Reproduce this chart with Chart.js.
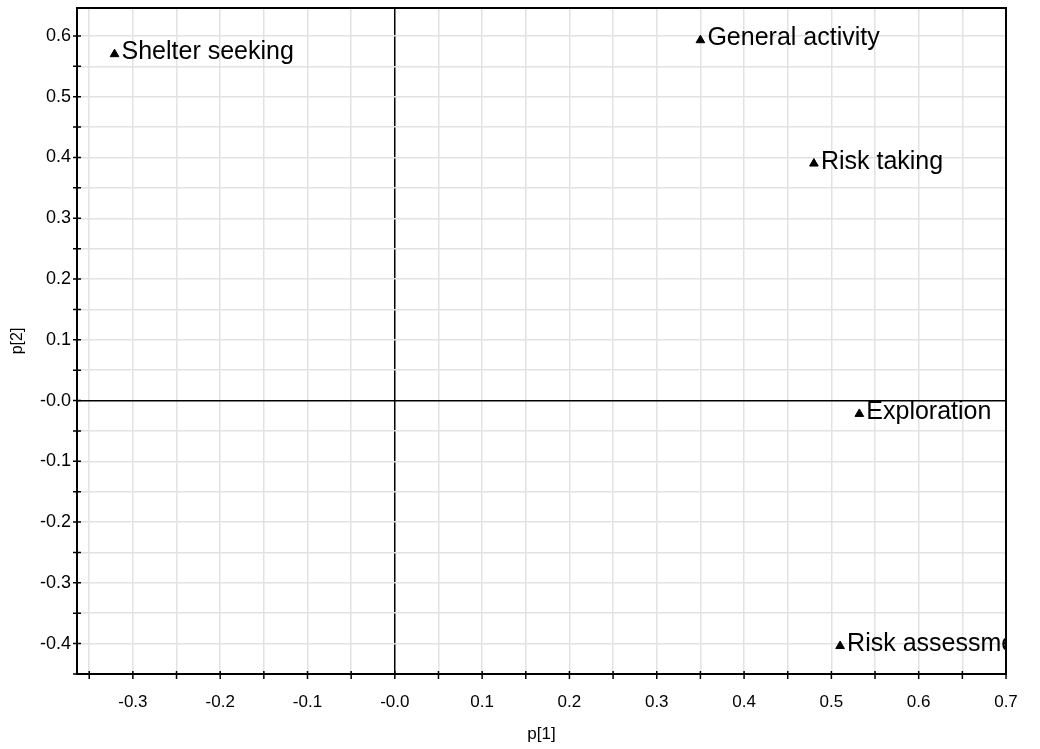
<!DOCTYPE html>
<html>
<head>
<meta charset="utf-8">
<script src="https://cdn.jsdelivr.net/npm/chart.js@4.4.1/dist/chart.umd.min.js"></script>
<style>
  html, body { margin: 0; padding: 0; background: #fff; }
  #wrap { width: 1040px; height: 749px; }
</style>
</head>
<body>
<div id="wrap"><canvas id="chart"></canvas></div>
<script>
// loadings
const names = ['Shelter seeking', 'General activity', 'Risk taking', 'Exploration', 'Risk assessment'];
const p1 = [-0.321, 0.35, 0.48, 0.532, 0.51];
const p2 = [0.570, 0.593, 0.390, -0.022, -0.404];

// axis ticks (labels only on the 0.1 steps)
const xTicks = [-0.35, -0.3, -0.25, -0.2, -0.15, -0.1, -0.05, 0, 0.05, 0.1, 0.15, 0.2,
  0.25, 0.3, 0.35, 0.4, 0.45, 0.5, 0.55, 0.6, 0.65, 0.7];
const yTicks = [-0.45, -0.4, -0.35, -0.3, -0.25, -0.2, -0.15, -0.1, -0.05, 0, 0.05, 0.1,
  0.15, 0.2, 0.25, 0.3, 0.35, 0.4, 0.45, 0.5, 0.55, 0.6];

const X_MIN = -0.364;
const X_MAX = 0.7;
const Y_MIN = -0.45;
const Y_MAX = 0.646;

const FONT = "'Liberation Sans', Arial, sans-serif";

function isMajor(v) {
  return Math.abs(v * 10 - Math.round(v * 10)) < 1e-6;
}

function tickText(v) {
  if (!isMajor(v)) return '';
  if (Math.abs(v) < 1e-9) return '-0.0';
  return v.toFixed(1);
}

function gridColor(ctx) {
  if (!ctx.tick) return '#e2e2e2';
  return Math.abs(ctx.tick.value) < 1e-9 ? '#000' : '#e2e2e2';
}

// black frame, crossing tick marks, point labels
const framePlugin = {
  id: 'frame',
  afterDatasetsDraw(chart) {
    const { ctx, chartArea: a, scales } = chart;

    ctx.save();
    ctx.beginPath();
    ctx.rect(a.left, a.top, a.right - a.left, a.bottom - a.top);
    ctx.clip();
    ctx.fillStyle = '#000';
    ctx.font = '25px ' + FONT;
    ctx.textBaseline = 'alphabetic';
    ctx.textAlign = 'left';
    const meta = chart.getDatasetMeta(0);
    meta.data.forEach((pt, i) => {
      ctx.fillText(names[i], pt.x + 7, pt.y + 5);
    });
    ctx.restore();

    ctx.save();
    ctx.strokeStyle = '#000';
    ctx.lineWidth = 2;
    ctx.strokeRect(a.left, a.top, a.right - a.left, a.bottom - a.top);

    ctx.lineWidth = 1.5;
    ctx.beginPath();
    xTicks.forEach((v) => {
      const px = scales.x.getPixelForValue(v);
      ctx.moveTo(px, a.bottom - 3);
      ctx.lineTo(px, a.bottom + 5);
    });
    yTicks.forEach((v) => {
      const py = scales.y.getPixelForValue(v);
      ctx.moveTo(a.left - 4, py);
      ctx.lineTo(a.left + 4, py);
    });
    ctx.stroke();
    ctx.restore();
  },
};

new Chart(document.getElementById('chart'), {
  type: 'scatter',
  data: {
    datasets: [
      {
        label: 'loadings',
        data: p1.map((x, i) => ({ x, y: p2[i] })),
        pointStyle: 'triangle',
        pointRadius: 5,
        pointHoverRadius: 5,
        backgroundColor: '#000',
        borderColor: '#000',
        borderWidth: 1,
      },
    ],
  },
  options: {
    responsive: true,
    maintainAspectRatio: false,
    animation: false,
    layout: { padding: { top: 8, right: 34, left: 0, bottom: 0 } },
    plugins: {
      legend: { display: false },
      tooltip: { enabled: false },
    },
    scales: {
      x: {
        type: 'linear',
        min: X_MIN,
        max: X_MAX,
        afterBuildTicks: (scale) => {
          scale.ticks = xTicks.map((v) => ({ value: v }));
        },
        afterFit: (scale) => {
          scale.height = 75;
          scale.paddingLeft = 0;
          scale.paddingRight = 0;
        },
        border: { display: false },
        grid: { color: gridColor, lineWidth: 1.5, drawTicks: false },
        ticks: {
          autoSkip: false,
          maxRotation: 0,
          padding: 18,
          color: '#000',
          font: { family: FONT, size: 17 },
          callback: (v) => tickText(v),
        },
        title: {
          display: true,
          text: 'p[1]',
          color: '#000',
          font: { family: FONT, size: 17 },
          padding: { top: 0, bottom: 4 },
        },
      },
      y: {
        type: 'linear',
        min: Y_MIN,
        max: Y_MAX,
        afterBuildTicks: (scale) => {
          scale.ticks = yTicks.map((v) => ({ value: v }));
        },
        afterFit: (scale) => {
          scale.width = 77;
          scale.paddingTop = 0;
          scale.paddingBottom = 0;
        },
        border: { display: false },
        grid: { color: gridColor, lineWidth: 1.5, drawTicks: false },
        ticks: {
          autoSkip: false,
          padding: 6,
          color: '#000',
          font: { family: FONT, size: 18 },
          callback: (v) => tickText(v),
        },
        title: {
          display: true,
          text: 'p[2]',
          color: '#000',
          font: { family: FONT, size: 16 },
          padding: { top: 8, bottom: 0 },
        },
      },
    },
  },
  plugins: [framePlugin],
});
</script>
</body>
</html>
